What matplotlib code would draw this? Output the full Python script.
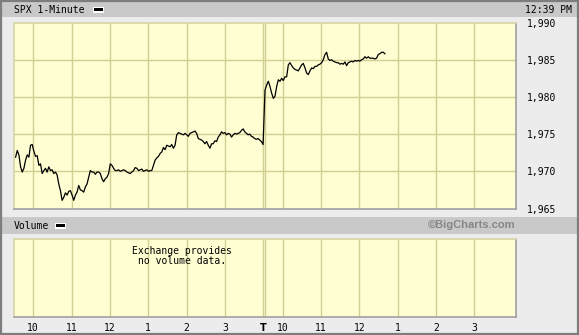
import numpy as np
import matplotlib
matplotlib.use("Agg")
import matplotlib.pyplot as plt
from matplotlib.patches import Rectangle
from matplotlib.ticker import FuncFormatter

# ---------------- data ----------------
title = "SPX 1-Minute"
time_label = "12:39 PM"
volume_title = "Volume"
volume_note = "Exchange provides\nno volume data."
credit = "\u00a9BigCharts.com"

# day 1 prices (sampled along the session, ~2.6 min apart)
day1_prices = [
    1971.9, 1972.8, 1972.2, 1970.6, 1969.9, 1970.4, 1971.5, 1972.2, 1971.9, 1973.5,
    1973.6, 1972.7, 1972.0, 1972.1, 1970.8, 1971.0, 1969.7, 1970.1, 1970.4, 1969.9,
    1970.6, 1970.1, 1970.2, 1969.7, 1969.9, 1969.5, 1968.3, 1967.4, 1966.1, 1966.5,
    1967.1, 1966.8, 1967.3, 1967.4, 1966.8, 1966.1, 1966.8, 1967.2, 1968.1, 1967.5,
    1967.4, 1967.2, 1967.9, 1968.3, 1969.2, 1970.1, 1969.9, 1969.9, 1969.6, 1969.9,
    1969.9, 1969.7, 1969.0, 1968.6, 1969.0, 1969.2, 1969.7, 1971.0, 1970.8, 1970.4,
    1970.1, 1970.1, 1970.2, 1970.0, 1970.1, 1970.2, 1970.1, 1969.9, 1969.8, 1969.7,
    1969.9, 1970.1, 1970.5, 1970.4, 1970.1, 1970.2, 1970.3, 1970.0, 1970.1, 1970.2,
    1970.0, 1970.1, 1970.1, 1970.8, 1971.5, 1971.8, 1972.0, 1972.4, 1972.6, 1973.2,
    1972.9, 1973.5, 1973.4, 1973.3, 1973.6, 1973.1, 1973.5, 1974.9, 1975.2, 1975.1,
    1975.0, 1974.9, 1975.1, 1974.9, 1974.7, 1975.1, 1975.2, 1975.3, 1975.4, 1975.1,
    1974.4, 1974.3, 1974.2, 1974.0, 1973.7, 1974.0, 1973.5, 1973.1, 1973.7, 1973.7,
    1974.1, 1974.0, 1974.6, 1974.9, 1975.3, 1975.1, 1975.2, 1974.9, 1975.1, 1975.0,
    1974.6, 1974.9, 1975.1, 1975.0, 1975.1, 1975.2, 1975.5, 1975.7, 1975.3, 1975.1,
    1974.9, 1975.0, 1974.7, 1974.6, 1974.4, 1974.3, 1974.4, 1974.2, 1974.0, 1973.6,
]
# day 2 prices (open until 12:39)
day2_prices = [
    1980.9, 1981.6, 1982.1, 1981.4, 1980.5, 1979.8, 1980.1, 1981.4, 1982.3, 1982.1,
    1982.5, 1982.2, 1982.7, 1982.7, 1984.3, 1984.6, 1984.2, 1983.9, 1983.7, 1983.6,
    1983.5, 1983.9, 1984.3, 1984.5, 1983.9, 1983.2, 1983.0, 1983.5, 1983.9, 1983.8,
    1984.1, 1984.1, 1984.3, 1984.4, 1984.6, 1985.0, 1985.7, 1986.0, 1985.1, 1984.9,
    1985.0, 1984.8, 1984.7, 1984.6, 1984.6, 1984.4, 1984.5, 1984.4, 1984.7, 1984.2,
    1984.6, 1984.7, 1984.8, 1984.7, 1984.9, 1984.8, 1984.9, 1984.8, 1985.0, 1985.1,
    1985.4, 1985.2, 1985.4, 1985.2, 1985.2, 1985.2, 1985.1, 1985.2, 1985.7, 1985.8,
    1986.0, 1986.0, 1985.8,
]
day1_span = (2.5, 389.5)      # minutes after 9:30
day2_span = (2.5, 190.0)      # minutes after 9:30 (to 12:39)
session_len = 390             # minutes per session

y_ticks = [1965, 1970, 1975, 1980, 1985, 1990]
hour_labels = ["10", "11", "12", "1", "2", "3"]
hour_offsets = [30, 90, 150, 210, 270, 330]

# ---------------- styling ----------------
W, H = 579, 335
BG = "#ececec"
BAR = "#c9c9c9"
YELLOW = "#fefed2"
GRID = "#d2cd92"
BORDER = "#7d7d7d"
MONO = "DejaVu Sans Mono"

def fx(x):
    return x / W

def fy(y):
    return 1 - y / H

fig = plt.figure(figsize=(W / 100, H / 100), dpi=100)
fig.patch.set_facecolor(BG)

def rect(x0, y0, x1, y1, color, z=0, **kw):
    fig.patches.append(Rectangle((fx(x0), fy(y1)), fx(x1) - fx(x0), fy(y0) - fy(y1),
                                 transform=fig.transFigure, facecolor=color,
                                 edgecolor="none", zorder=z, **kw))

# header bars
rect(2, 2, 577, 17, BAR)
rect(2, 217, 577, 233.5, BAR)
# outer border
fig.patches.append(Rectangle((0.001, 0.002), 0.997, 0.995, transform=fig.transFigure,
                             facecolor="none", edgecolor=BORDER, linewidth=1.6, zorder=5))

# header texts
fig.text(fx(14), fy(10), title, family=MONO, fontsize=7, va="center", ha="left")
fig.text(fx(572), fy(10), time_label, family=MONO, fontsize=7, va="center", ha="right")
fig.text(fx(14), fy(226), volume_title, family=MONO, fontsize=7, va="center", ha="left")
# legend swatches
for (x0, yc) in [(92.5, 9.5), (55, 225.5)]:
    rect(x0, yc - 3, x0 + 11, yc + 3, "white", z=2)
    rect(x0 + 1, yc - 1.6, x0 + 10, yc + 1.6, "black", z=3)
fig.text(fx(516), fy(225.5), credit, family="Liberation Sans", fontsize=8,
         fontweight="bold", color="#868686", va="center", ha="right")

# x positions
day2_offset = session_len
t1 = np.linspace(day1_span[0], day1_span[1], len(day1_prices))
t2 = np.linspace(day2_span[0], day2_span[1], len(day2_prices)) + day2_offset
x_all = np.concatenate([t1, t2])
p_all = np.concatenate([day1_prices, day2_prices])

xmin, xmax = 0, 785
grid_x = hour_offsets + [389, 392] + [day2_offset + h for h in hour_offsets]

def style_panel(ax):
    ax.set_facecolor(YELLOW)
    ax.set_xlim(xmin, xmax)
    for gx in grid_x:
        ax.axvline(gx, color=GRID, linewidth=1.0, zorder=1)
    ax.spines["top"].set_color("#d8d4a8")
    ax.spines["left"].set_color("#d8d4a8")
    ax.spines["right"].set_color("#a0a0a0")
    ax.spines["bottom"].set_color("#a0a0a0")
    for s in ax.spines.values():
        s.set_linewidth(1.2)

# main panel
ax = fig.add_axes([fx(14), fy(208.5), fx(516) - fx(14), fy(22.5) - fy(208.5)])
style_panel(ax)
ax.set_ylim(1965, 1990)
for yv in y_ticks[1:-1]:
    ax.axhline(yv, color=GRID, linewidth=1.0, zorder=1)
ax.plot(x_all, p_all, color="black", linewidth=0.9, zorder=3)
ax.set_xticks([])
ax.yaxis.tick_right()
ax.set_yticks(y_ticks)
ax.yaxis.set_major_formatter(FuncFormatter(lambda v, p: f"{int(v):,}"))
ax.tick_params(axis="y", length=0, pad=8, labelsize=7)
for lab in ax.get_yticklabels():
    lab.set_family(MONO)

# volume panel
axv = fig.add_axes([fx(14), fy(317), fx(516) - fx(14), fy(239) - fy(317)])
style_panel(axv)
axv.set_ylim(0, 1)
axv.set_yticks([])
xt = hour_offsets + [390.5] + [day2_offset + h for h in hour_offsets]
xl = hour_labels + ["T"] + hour_labels
axv.set_xticks(xt)
axv.set_xticklabels(xl)
axv.tick_params(axis="x", length=0, pad=4, labelsize=7)
for lab in axv.get_xticklabels():
    lab.set_family(MONO)
    if lab.get_text() == "T":
        lab.set_fontweight("bold")
        lab.set_family("DejaVu Sans")
axv.text(263, 0.78, volume_note, family=MONO, fontsize=7, ha="center", va="center",
         transform=axv.transData, linespacing=1.0, zorder=4)
axv.set_xlim(xmin, xmax)

fig.savefig("out.png", dpi=100, facecolor=BG)
